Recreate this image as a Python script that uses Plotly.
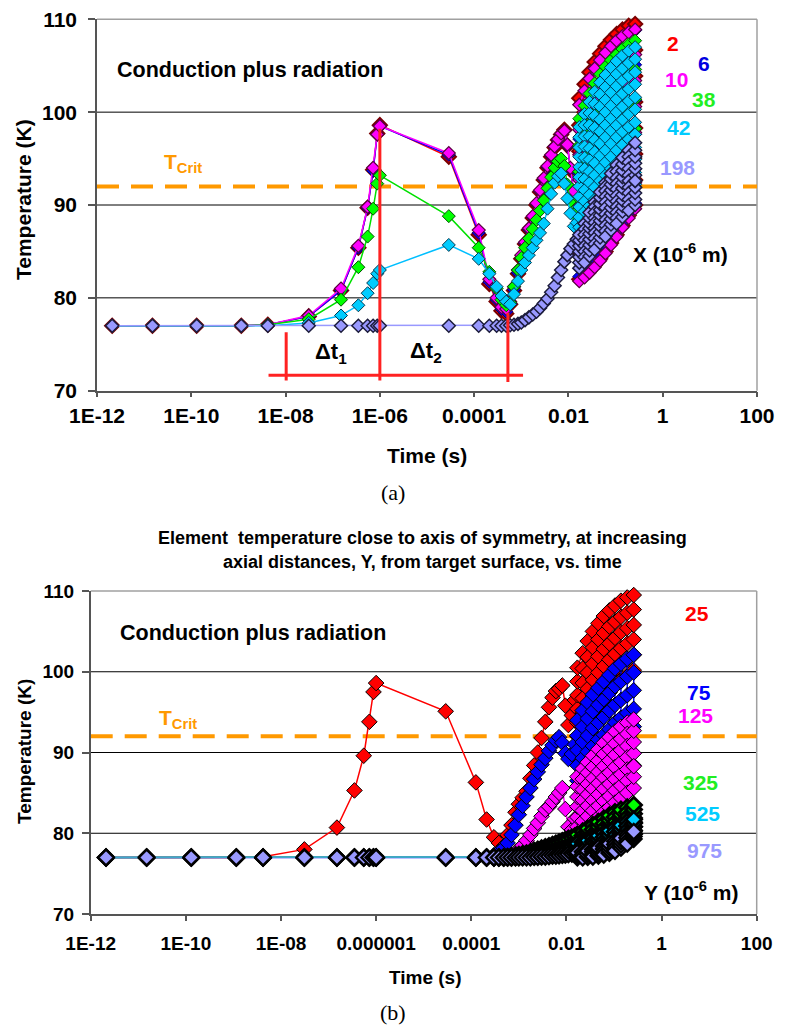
import plotly.graph_objects as go

# ---------------------------------------------------------------- data ----
# sample times (s), shared by every element of a run
t_early = [2.1e-12, 1.5e-11, 1.3e-10, 1.15e-9, 4.2e-9, 3.1e-8, 1.5e-7, 3.5e-7,
           5.5e-7, 7.2e-7, 8.8e-7, 1.0e-6, 2.9e-5, 1.25e-4, 2.1e-4, 3.0e-4,
           3.8e-4, 4.8e-4]
t_mid = [5.8e-4, 7.0e-4, 8.5e-4, 1.0e-3, 1.2e-3, 1.45e-3, 1.75e-3, 2.1e-3,
         2.5e-3, 3.0e-3, 3.6e-3, 4.3e-3, 5.1e-3, 6.0e-3, 7.0e-3, 8.2e-3,
         9.5e-3, 1.1e-2, 1.3e-2, 1.5e-2]
# late pulses: every pulse is sampled at several temperatures
t_pulse = [0.017, 0.022, 0.028, 0.036, 0.047, 0.061, 0.08, 0.105, 0.14, 0.19, 0.26]

x_ticks = [1e-12, 1e-10, 1e-8, 1e-6, 1e-4, 1e-2, 1, 100]
x_ticktext_a = ["1E-12", "1E-10", "1E-08", "1E-06", "0.0001", "0.01", "1", "100"]
x_ticktext_b = ["1E-12", "1E-10", "1E-08", "0.000001", "0.0001", "0.01", "1", "100"]
y_ticks = [70, 80, 90, 100, 110]
t_crit = 92.0

# (a) lateral positions X (1e-6 m)
labels_a = ["2", "6", "10", "38", "42", "198"]
Ta_early = {
    "2":   [77.0, 77.0, 77.0, 77.0, 77.1, 78.0, 80.8, 85.4, 89.7, 93.8, 97.7, 98.6, 95.2, 86.8, 81.5, 79.6, 78.6, 78.3],
    "6":   [77.0, 77.0, 77.0, 77.0, 77.1, 78.0, 80.8, 85.4, 89.7, 93.7, 97.6, 98.5, 95.4, 87.0, 81.7, 79.8, 78.8, 78.5],
    "10":  [77.0, 77.0, 77.0, 77.0, 77.1, 78.1, 81.0, 85.6, 89.8, 94.0, 97.6, 98.5, 95.6, 87.3, 82.0, 80.0, 79.0, 78.8],
    "38":  [77.0, 77.0, 77.0, 77.0, 77.1, 77.7, 79.8, 83.3, 86.6, 89.6, 92.3, 93.2, 88.8, 85.4, 82.8, 81.0, 79.8, 79.2],
    "42":  [77.0, 77.0, 77.0, 77.0, 77.0, 77.3, 78.1, 79.2, 80.5, 81.6, 82.6, 83.0, 85.7, 84.2, 82.6, 81.2, 80.2, 79.6],
    "198": [77.0, 77.0, 77.0, 77.0, 77.0, 77.0, 77.0, 77.0, 77.0, 77.0, 77.0, 77.0, 77.0, 77.0, 77.0, 77.0, 77.0, 77.0],
}
Ta_mid = {
    "2":   [79.3, 80.8, 82.6, 84.2, 85.8, 87.3, 88.6, 90.0, 91.4, 92.7, 94.0, 95.2, 96.2, 97.0, 97.6, 98.1, 96.4, 93.8, 91.2, 89.0],
    "6":   [79.4, 80.9, 82.7, 84.3, 85.9, 87.4, 88.7, 90.1, 91.5, 92.8, 94.1, 95.3, 96.3, 97.0, 97.6, 98.0, 96.4, 93.9, 91.3, 89.1],
    "10":  [79.6, 81.2, 83.0, 84.6, 86.0, 87.5, 88.8, 90.2, 91.6, 92.9, 94.2, 95.4, 96.3, 97.1, 97.7, 98.0, 96.5, 94.0, 91.5, 89.3],
    "38":  [79.5, 81.2, 83.0, 84.3, 85.4, 86.4, 87.4, 88.4, 89.4, 90.5, 91.8, 93.0, 94.0, 94.7, 95.0, 94.2, 92.2, 90.4, 89.0, 89.3],
    "42":  [79.3, 80.4, 81.8, 83.0, 83.8, 84.6, 85.4, 86.2, 87.0, 88.0, 89.6, 91.2, 92.4, 93.1, 93.4, 92.3, 90.7, 89.1, 87.7, 88.1],
    "198": [77.05, 77.1, 77.2, 77.35, 77.6, 77.9, 78.2, 78.5, 78.9, 79.4, 79.9, 80.6, 81.3, 82.2, 83.0, 83.9, 84.6, 85.3, 85.8, 86.3],
}
Ta_pulse = {
    "2": [[82.0, 84.6, 87.5, 90.1, 92.9, 95.8, 98.6, 101.5],
          [82.4, 85.1, 88.2, 91.0, 94.0, 96.9, 100.0, 103.0],
          [82.9, 85.8, 88.9, 91.9, 95.0, 98.1, 101.2, 104.3],
          [83.5, 86.5, 89.6, 92.7, 95.9, 99.0, 102.2, 105.4],
          [84.2, 87.3, 90.4, 93.5, 96.7, 99.9, 103.1, 106.3],
          [85.0, 88.1, 91.2, 94.3, 97.5, 100.7, 103.9, 107.1],
          [85.9, 88.9, 92.0, 95.1, 98.3, 101.4, 104.6, 107.8],
          [86.8, 89.8, 92.8, 95.9, 99.0, 102.1, 105.3, 108.4],
          [87.8, 90.7, 93.7, 96.7, 99.7, 102.8, 105.9, 108.9],
          [88.9, 91.7, 94.6, 97.5, 100.4, 103.4, 106.4, 109.3],
          [90.0, 92.7, 95.5, 98.3, 101.1, 103.9, 106.7, 109.5]],
    "6": [[82.3, 86.0, 89.7, 93.4, 97.1, 100.8],
          [82.7, 86.6, 90.5, 94.5, 98.4, 102.3],
          [83.2, 87.3, 91.4, 95.4, 99.5, 103.6],
          [83.8, 88.0, 92.2, 96.3, 100.5, 104.7],
          [84.5, 88.7, 92.9, 97.2, 101.4, 105.6],
          [85.3, 89.5, 93.7, 97.9, 102.2, 106.4],
          [86.2, 90.4, 94.6, 98.7, 102.9, 107.1],
          [87.1, 91.2, 95.3, 99.5, 103.6, 107.7],
          [88.1, 92.1, 96.1, 100.2, 104.2, 108.2],
          [89.1, 93.0, 96.9, 100.8, 104.7, 108.6],
          [90.2, 93.9, 97.6, 101.3, 105.1, 108.8]],
    "10": [[81.8, 84.5, 87.2, 89.9, 92.7, 95.4, 98.1, 100.8],
           [82.2, 85.1, 88.0, 90.9, 93.6, 96.5, 99.4, 102.3],
           [82.7, 85.7, 88.7, 91.6, 94.6, 97.6, 100.6, 103.6],
           [83.3, 86.3, 89.3, 92.4, 95.5, 98.5, 101.6, 104.7],
           [84.0, 87.1, 90.1, 93.2, 96.3, 99.4, 102.5, 105.6],
           [84.8, 87.9, 90.9, 94.0, 97.1, 100.2, 103.3, 106.4],
           [85.7, 88.8, 91.7, 94.9, 97.9, 101.0, 104.0, 107.1],
           [86.6, 89.6, 92.6, 95.6, 98.7, 101.7, 104.7, 107.7],
           [87.6, 90.5, 93.4, 96.5, 99.4, 102.4, 105.3, 108.2],
           [88.6, 91.4, 94.3, 97.2, 100.0, 102.9, 105.8, 108.6],
           [89.6, 92.4, 95.0, 97.8, 100.6, 103.4, 106.2, 108.9]],
    "38": [[85.0, 87.9, 90.7, 93.6, 96.4, 99.3],
           [85.6, 88.6, 91.6, 94.7, 97.7, 100.7],
           [86.3, 89.4, 92.5, 95.7, 98.8, 102.0],
           [87.0, 90.2, 93.4, 96.7, 99.9, 103.1],
           [87.7, 91.0, 94.3, 97.5, 100.8, 104.1],
           [88.4, 91.7, 95.0, 98.3, 101.6, 104.9],
           [89.1, 92.4, 95.7, 99.0, 102.3, 105.6],
           [89.8, 93.1, 96.4, 99.7, 103.0, 106.2],
           [90.5, 93.8, 97.1, 100.4, 103.6, 106.8],
           [91.2, 94.4, 97.6, 100.9, 104.1, 107.3],
           [91.9, 95.1, 98.2, 101.4, 104.6, 107.7]],
    "42": [[86.5, 87.6, 88.7, 89.8, 90.9, 92.0, 93.0, 94.1, 95.2, 96.2, 97.3, 98.4],
           [86.9, 88.1, 89.3, 90.4, 91.6, 92.8, 93.9, 95.1, 96.3, 97.4, 98.6, 99.8],
           [87.4, 88.6, 89.9, 91.1, 92.4, 93.6, 94.9, 96.1, 97.4, 98.6, 99.9, 101.1],
           [88.0, 89.3, 90.6, 91.9, 93.2, 94.5, 95.7, 97.0, 98.3, 99.6, 100.9, 102.2],
           [88.6, 89.9, 91.3, 92.6, 93.9, 95.3, 96.6, 97.9, 99.2, 100.6, 101.9, 103.2],
           [89.2, 90.5, 91.9, 93.2, 94.6, 95.9, 97.3, 98.6, 100.0, 101.3, 102.7, 104.0],
           [89.8, 91.2, 92.5, 93.9, 95.2, 96.6, 98.0, 99.3, 100.7, 102.1, 103.4, 104.8],
           [90.4, 91.8, 93.1, 94.5, 95.9, 97.3, 98.6, 100.0, 101.4, 102.8, 104.1, 105.5],
           [91.0, 92.4, 93.7, 95.1, 96.5, 97.9, 99.2, 100.6, 102.0, 103.4, 104.7, 106.1],
           [91.6, 93.0, 94.3, 95.7, 97.1, 98.4, 99.8, 101.2, 102.5, 103.9, 105.3, 106.6],
           [92.2, 93.5, 94.9, 96.2, 97.6, 98.9, 100.3, 101.6, 103.0, 104.3, 105.7, 107.0]],
    "198": [[83.2, 83.8, 84.4, 85.0, 85.6, 86.2, 86.8],
            [83.8, 84.4, 85.0, 85.6, 86.2, 86.8, 87.4, 88.0],
            [84.5, 85.1, 85.7, 86.3, 86.9, 87.5, 88.0, 88.6, 89.2],
            [85.2, 85.8, 86.4, 87.0, 87.5, 88.1, 88.6, 89.2, 89.8, 90.3],
            [85.9, 86.5, 87.1, 87.7, 88.3, 88.9, 89.5, 90.1, 90.8, 91.4],
            [86.6, 87.2, 87.8, 88.4, 89.0, 89.7, 90.3, 90.9, 91.5, 92.0, 92.4],
            [87.3, 87.9, 88.5, 89.1, 89.7, 90.3, 91.0, 91.6, 92.2, 92.8, 93.4],
            [88.0, 88.6, 89.2, 89.8, 90.4, 91.0, 91.7, 92.3, 92.9, 93.6, 94.3],
            [88.7, 89.3, 89.9, 90.5, 91.1, 91.8, 92.4, 93.0, 93.7, 94.4, 95.1],
            [89.4, 90.0, 90.6, 91.3, 91.9, 92.6, 93.2, 93.9, 94.6, 95.2, 95.9],
            [90.0, 90.6, 91.3, 91.9, 92.6, 93.2, 93.9, 94.5, 95.2, 95.9, 96.7]],
}
Ta_final = {"198": 92.6}

# (b) axial depths Y (1e-6 m)
labels_b = ["25", "75", "125", "325", "525", "975"]
Tb_early = {
    "25":  [77.0, 77.0, 77.0, 77.0, 77.1, 78.0, 80.7, 85.3, 89.6, 93.8, 97.5, 98.6, 95.1, 86.3, 81.7, 79.5, 78.8, 78.4],
    "75":  [77.0, 77.0, 77.0, 77.0, 77.0, 77.0, 77.0, 77.0, 77.0, 77.0, 77.0, 77.0, 77.0, 77.0, 77.0, 77.3, 77.7, 78.2],
    "125": [77.0, 77.0, 77.0, 77.0, 77.0, 77.0, 77.0, 77.0, 77.0, 77.0, 77.0, 77.0, 77.0, 77.0, 77.0, 77.0, 77.0, 77.05],
    "325": [77.0, 77.0, 77.0, 77.0, 77.0, 77.0, 77.0, 77.0, 77.0, 77.0, 77.0, 77.0, 77.0, 77.0, 77.0, 77.0, 77.0, 77.0],
    "525": [77.0, 77.0, 77.0, 77.0, 77.0, 77.0, 77.0, 77.0, 77.0, 77.0, 77.0, 77.0, 77.0, 77.0, 77.0, 77.0, 77.0, 77.0],
    "975": [77.0, 77.0, 77.0, 77.0, 77.0, 77.0, 77.0, 77.0, 77.0, 77.0, 77.0, 77.0, 77.0, 77.0, 77.0, 77.0, 77.0, 77.0],
}
Tb_mid = {
    "25":  [79.8, 81.0, 82.6, 83.6, 84.4, 85.2, 86.8, 88.4, 90.0, 91.8, 93.8, 95.6, 96.8, 97.6, 97.9, 98.3, 95.8, 93.4, 94.6, 96.5],
    "75":  [78.8, 79.8, 81.0, 82.3, 83.4, 84.5, 85.6, 86.7, 87.6, 88.5, 89.3, 90.2, 90.9, 91.5, 91.9, 91.2, 89.9, 89.2, 89.8, 91.0],
    "125": [77.1, 77.3, 77.6, 78.0, 78.5, 79.1, 79.8, 80.6, 81.3, 82.1, 82.9, 83.3, 83.9, 84.5, 85.0, 85.6, 83.0, 80.8, 80.4, 81.8],
    "325": [77.05, 77.1, 77.2, 77.3, 77.4, 77.5, 77.65, 77.8, 77.95, 78.1, 78.25, 78.4, 78.55, 78.7, 78.85, 79.0, 79.15, 79.3, 79.45, 79.6],
    "525": [77.0, 77.0, 77.05, 77.1, 77.15, 77.2, 77.25, 77.3, 77.4, 77.5, 77.6, 77.7, 77.8, 77.9, 78.0, 78.1, 78.2, 78.3, 78.4, 78.5],
    "975": [77.0, 77.0, 77.0, 77.0, 77.0, 77.0, 77.0, 77.05, 77.05, 77.1, 77.1, 77.15, 77.2, 77.2, 77.25, 77.3, 77.35, 77.4, 77.45, 77.5],
}
Tb_pulse = {
    "25": [[92.0, 93.7, 95.4, 97.1, 98.8, 100.5],
           [93.0, 94.9, 96.7, 98.6, 100.4, 102.3],
           [94.0, 96.0, 97.9, 99.9, 101.8, 103.8],
           [95.0, 97.0, 99.0, 101.0, 103.0, 105.0],
           [95.8, 97.9, 99.9, 101.9, 104.0, 106.0],
           [96.6, 98.7, 100.7, 102.8, 104.8, 106.9],
           [97.4, 99.4, 101.5, 103.5, 105.6, 107.6],
           [98.2, 100.2, 102.2, 104.2, 106.2, 108.2],
           [99.0, 101.0, 102.9, 104.9, 106.8, 108.8],
           [99.6, 101.5, 103.5, 105.4, 107.3, 109.2],
           [100.2, 102.1, 104.0, 105.8, 107.7, 109.5]],
    "75": [[86.5, 88.4, 90.3, 92.1, 94.0],
           [87.3, 89.3, 91.3, 93.2, 95.2],
           [88.0, 90.1, 92.1, 94.2, 96.2],
           [88.7, 90.8, 93.0, 95.1, 97.2],
           [89.4, 91.6, 93.7, 95.9, 98.0],
           [90.0, 92.2, 94.4, 96.6, 98.8],
           [90.7, 92.9, 95.2, 97.4, 99.6],
           [91.4, 93.7, 95.9, 98.2, 100.4],
           [92.0, 94.3, 96.5, 98.8, 101.0],
           [92.6, 94.9, 97.1, 99.4, 101.6],
           [93.2, 95.4, 97.7, 99.9, 102.1]],
    "125": [[79.6, 80.8, 82.0, 83.3, 84.5, 85.8, 87.0],
            [80.2, 81.5, 82.8, 84.1, 85.4, 86.7, 88.0],
            [80.8, 82.1, 83.4, 84.8, 86.1, 87.5, 88.8],
            [81.4, 82.8, 84.1, 85.5, 86.8, 88.2, 89.6],
            [82.0, 83.4, 84.8, 86.2, 87.6, 89.0, 90.4],
            [82.6, 84.0, 85.5, 86.9, 88.3, 89.8, 91.2],
            [83.2, 84.6, 86.1, 87.5, 89.0, 90.4, 91.9],
            [83.8, 85.3, 86.7, 88.2, 89.7, 91.1, 92.6],
            [84.4, 85.9, 87.3, 88.8, 90.3, 91.7, 93.2],
            [85.0, 86.5, 87.9, 89.4, 90.8, 92.3, 93.7],
            [85.6, 87.0, 88.4, 89.9, 91.3, 92.7, 94.1]],
    "325": [[77.6, 78.05, 78.5, 78.9, 79.35, 79.8],
            [77.8, 78.3, 78.75, 79.25, 79.7, 80.2],
            [78.0, 78.5, 79.05, 79.55, 80.1, 80.6],
            [78.2, 78.75, 79.3, 79.9, 80.45, 81.0],
            [78.5, 79.1, 79.7, 80.2, 80.8, 81.4],
            [78.8, 79.4, 80.0, 80.6, 81.2, 81.8],
            [79.1, 79.7, 80.35, 80.95, 81.6, 82.2],
            [79.5, 80.1, 80.75, 81.35, 82.0, 82.6],
            [79.9, 80.5, 81.1, 81.7, 82.3, 82.9],
            [80.3, 80.9, 81.5, 82.0, 82.6, 83.2],
            [80.8, 81.35, 81.9, 82.4, 82.95, 83.5]],
    "525": [[77.3, 77.65, 78.0, 78.35, 78.7],
            [77.4, 77.75, 78.15, 78.5, 78.9],
            [77.5, 77.9, 78.3, 78.7, 79.1],
            [77.6, 78.05, 78.5, 78.95, 79.4],
            [77.8, 78.25, 78.75, 79.2, 79.7],
            [78.0, 78.5, 79.0, 79.5, 80.0],
            [78.3, 78.8, 79.3, 79.8, 80.3],
            [78.6, 79.1, 79.65, 80.2, 80.7],
            [79.0, 79.5, 80.0, 80.5, 81.0],
            [79.4, 79.9, 80.4, 80.9, 81.4],
            [79.9, 80.35, 80.8, 81.25, 81.7]],
    "975": [[77.0, 77.3, 77.6],
            [77.0, 77.35, 77.7],
            [77.05, 77.4, 77.8],
            [77.1, 77.4, 77.7, 78.0],
            [77.2, 77.5, 77.85, 78.2],
            [77.35, 77.7, 78.05, 78.4],
            [77.55, 77.9, 78.3, 78.7],
            [77.8, 78.2, 78.6, 79.0],
            [78.2, 78.6, 79.0, 79.4],
            [78.7, 79.05, 79.45, 79.8],
            [79.3, 79.6, 79.9, 80.2]],
}
Tb_final = {"125": 88.3}

# ---------------------------------------------------------------- style ---
W, H = 787, 1025
SANS = "Liberation Sans, Arial, Helvetica, sans-serif"
SERIF = "Liberation Serif, Times New Roman, serif"
ORANGE = "#FF9900"

# plot frames in pixels (left, right, top, bottom)
FA = (97.0, 757.0, 19.3, 390.7)
FB = (90.7, 756.7, 591.0, 914.0)

style_a = {
    "2":   dict(fill="#FF0000", line="#FF0000", edge="#7A0000", ew=2.0, size=11),
    "6":   dict(fill="#0000FF", line="#0000FF", edge="#000070", ew=1.0, size=10),
    "10":  dict(fill="#FF00FF", line="#FF00FF", edge="#5A0040", ew=1.2, size=10),
    "38":  dict(fill="#00FF00", line="#00E000", edge="#005000", ew=1.0, size=10),
    "42":  dict(fill="#00CCFF", line="#00BFFF", edge="#003850", ew=1.0, size=10),
    "198": dict(fill="#9999FF", line="#9999FF", edge="#1C1C3C", ew=1.5, size=10),
}
style_b = {
    "25":  dict(fill="#FF0000", line="#FF0000", edge="#000000", ew=1.0, size=12),
    "75":  dict(fill="#0000FF", line="#0000FF", edge="#000000", ew=1.0, size=12),
    "125": dict(fill="#FF00FF", line="#FF00FF", edge="#000000", ew=1.0, size=12),
    "325": dict(fill="#00FF00", line="#00E000", edge="#000000", ew=2.8, size=12),
    "525": dict(fill="#00CCFF", line="#33A6CC", edge="#000000", ew=2.8, size=12),
    "975": dict(fill="#9999FF", line="#3FA8CC", edge="#000000", ew=2.4, size=12),
}


def fx(p):
    return p / W


def fy(p):
    return 1 - p / H


def series_xy(early, mid, pulses, final=None):
    xs = list(t_early) + list(t_mid)
    ys = list(early) + list(mid)
    for k, (t, col) in enumerate(zip(t_pulse, pulses)):
        vals = col if k % 2 == 0 else col[::-1]
        xs += [t] * len(vals)
        ys += vals
    if final is not None:
        xs.append(t_pulse[-1])
        ys.append(final)
    return xs, ys


fig = go.Figure()

for lab in labels_a:
    s = style_a[lab]
    xs, ys = series_xy(Ta_early[lab], Ta_mid[lab], Ta_pulse[lab], Ta_final.get(lab))
    fig.add_trace(go.Scatter(
        x=xs, y=ys, mode="lines+markers", xaxis="x", yaxis="y",
        line=dict(color=s["line"], width=1.5),
        marker=dict(symbol="diamond", size=s["size"], color=s["fill"],
                    line=dict(color=s["edge"], width=s["ew"])),
        cliponaxis=False, showlegend=False, hoverinfo="skip"))

for lab in labels_b:
    s = style_b[lab]
    xs, ys = series_xy(Tb_early[lab], Tb_mid[lab], Tb_pulse[lab], Tb_final.get(lab))
    fig.add_trace(go.Scatter(
        x=xs, y=ys, mode="lines+markers", xaxis="x2", yaxis="y2",
        line=dict(color=s["line"], width=1.5),
        marker=dict(symbol="diamond", size=s["size"], color=s["fill"],
                    line=dict(color=s["edge"], width=s["ew"])),
        cliponaxis=False, showlegend=False, hoverinfo="skip"))

# interval brackets dt1 / dt2 on panel (a)
bracket_red = "#FF2222"
bracket_segments = [
    ([4.35e-9, 1.09e-3], [71.67, 71.67]),
    ([1.03e-8, 1.03e-8], [76.3, 71.1]),
    ([1.0e-6, 1.0e-6], [98.2, 71.1]),
    ([5.2e-4, 5.2e-4], [78.4, 70.95]),
]
for bx, by in bracket_segments:
    fig.add_trace(go.Scatter(x=bx, y=by, mode="lines", xaxis="x", yaxis="y",
                             line=dict(color=bracket_red, width=3),
                             showlegend=False, hoverinfo="skip"))


def xaxis_cfg(frame, ticktext, size, standoff, anchor):
    l, r, t, b = frame
    return dict(type="log", range=[-12, 2], domain=[fx(l), fx(r)], anchor=anchor,
                tickvals=x_ticks, ticktext=ticktext, showgrid=False, zeroline=False,
                showline=True, linecolor="#555555", linewidth=1.5, automargin=False,
                ticks="outside", ticklen=5, tickwidth=1.5, tickcolor="#555555",
                ticklabelstandoff=standoff,
                tickfont=dict(family=SANS, size=size, color="#000000", weight="bold"))


def yaxis_cfg(frame, size, standoff, anchor):
    l, r, t, b = frame
    return dict(range=[70, 110], domain=[fy(b), fy(t)], anchor=anchor,
                tickvals=y_ticks, showgrid=False, zeroline=False,
                showline=True, linecolor="#555555", linewidth=1.5, automargin=False,
                ticks="outside", ticklen=7, tickwidth=1.5, tickcolor="#555555",
                ticklabelstandoff=standoff,
                tickfont=dict(family=SANS, size=size, color="#000000", weight="bold"))


shapes = []
for xa, ya in (("x", "y"), ("x2", "y2")):
    # horizontal grid
    for gv in (80, 90, 100):
        shapes.append(dict(type="line", xref=f"{xa} domain", yref=ya, x0=0, x1=1,
                           y0=gv, y1=gv, line=dict(color="#000000", width=1), layer="below"))
    # light frame on top and right
    shapes.append(dict(type="line", xref=f"{xa} domain", yref=f"{ya} domain", x0=0, x1=1,
                       y0=1, y1=1, line=dict(color="#A0A0A0", width=1.5), layer="below"))
    shapes.append(dict(type="line", xref=f"{xa} domain", yref=f"{ya} domain", x0=1, x1=1,
                       y0=0, y1=1, line=dict(color="#A0A0A0", width=1.5), layer="below"))
    # critical temperature
    shapes.append(dict(type="line", xref=f"{xa} domain", yref=ya, x0=0, x1=1,
                       y0=t_crit, y1=t_crit,
                       line=dict(color=ORANGE, width=4, dash="22px,12px"), layer="below"))

annotations = []


def ann(text, px, py, size, color="#000000", xanchor="center", yanchor="middle",
        weight="bold", family=SANS, angle=0):
    annotations.append(dict(text=text, x=fx(px), y=fy(py), xref="paper", yref="paper",
                            xanchor=xanchor, yanchor=yanchor, showarrow=False,
                            textangle=angle,
                            font=dict(family=family, size=size, color=color, weight=weight)))


# panel (a)
ann("Conduction plus radiation", 115, 70, 21.5, xanchor="left")
ann("T<sub>Crit</sub>", 162, 163, 21, color=ORANGE, xanchor="left")
ann("Δt<sub>1</sub>", 313, 353, 22, xanchor="left")
ann("Δt<sub>2</sub>", 408, 352, 22, xanchor="left")
ann("X (10<sup>-6</sup> m)", 680.5, 253, 21)
ann("Temperature (K)", 24, 200, 21, angle=-90)
ann("Time (s)", 427, 456, 21)
ann("(a)", 393, 492, 22, weight="normal", family=SERIF)
lab_pos_a = {"2": (672.5, 43), "6": (704, 63), "10": (676, 80),
             "38": (704, 100), "42": (678.5, 127), "198": (677.5, 167)}
lab_col_a = {"2": "#FF0000", "6": "#0000E0", "10": "#FF00FF",
             "38": "#22EE22", "42": "#00CCFF", "198": "#9999FF"}
for lab in labels_a:
    ann(lab, *lab_pos_a[lab], 21, color=lab_col_a[lab])

# panel (b)
ann("Element  temperature close to axis of symmetry, at increasing", 422, 538, 18)
ann("axial distances, Y, from target surface, vs. time", 422, 562, 18)
ann("Conduction plus radiation", 118, 633, 21.5, xanchor="left")
ann("T<sub>Crit</sub>", 157, 719, 21, color=ORANGE, xanchor="left")
ann("Y (10<sup>-6</sup> m)", 690.5, 891, 21)
ann("Temperature (K)", 24, 752, 19, angle=-90)
ann("Time (s)", 425, 977, 19)
ann("(b)", 393, 1012, 22, weight="normal", family=SERIF)
lab_pos_b = {"25": (696.5, 613), "75": (698.5, 692), "125": (695.5, 715),
             "325": (700, 782), "525": (702, 813), "975": (704, 850)}
lab_col_b = {"25": "#FF0000", "75": "#0000FF", "125": "#FF00FF",
             "325": "#22EE22", "525": "#00CCFF", "975": "#9999FF"}
for lab in labels_b:
    ann(lab, *lab_pos_b[lab], 21, color=lab_col_b[lab])

fig.update_layout(
    width=W, height=H,
    margin=dict(l=0, r=0, t=0, b=0, pad=0, autoexpand=False),
    paper_bgcolor="white", plot_bgcolor="white", showlegend=False,
    xaxis=xaxis_cfg(FA, x_ticktext_a, 21, 0, "y"),
    yaxis=yaxis_cfg(FA, 21, 7, "x"),
    xaxis2=xaxis_cfg(FB, x_ticktext_b, 19, 6, "y2"),
    yaxis2=yaxis_cfg(FB, 19, 4, "x2"),
    shapes=shapes, annotations=annotations,
)

fig.write_html("out.html")
